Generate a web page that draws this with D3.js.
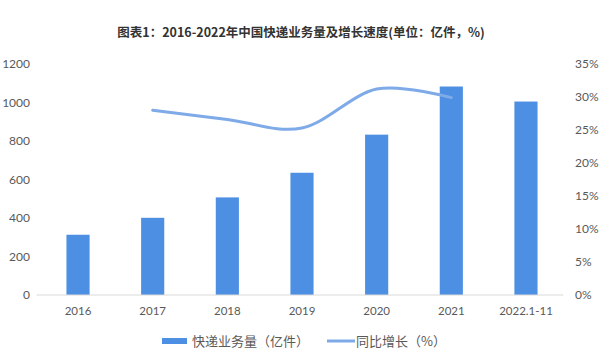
<!DOCTYPE html>
<html>
<head>
<meta charset="utf-8">
<script src="https://cdn.jsdelivr.net/npm/d3@7/dist/d3.min.js"></script>
<style>
  body { margin: 0; background: #fff; }
  text { font-family: Lato, "Noto Sans CJK SC", sans-serif; }
</style>
</head>
<body>
<div class="chart"></div>
<script>
// data
let years = ["2016", "2017", "2018", "2019", "2020", "2021", "2022.1-11"];
let volume = [313, 401, 507, 635, 833, 1083, 1005];
let growthYears = ["2017", "2018", "2019", "2020", "2021"];
let growth = [28.0, 26.6, 25.3, 31.2, 29.9];
let leftTicks = [0, 200, 400, 600, 800, 1000, 1200];
let rightTicks = [0, 5, 10, 15, 20, 25, 30, 35];

let W = 600, H = 359;
let plot = { left: 40.7, right: 563.3, top: 64, bottom: 295 };
let barColor = "#4d8fe2";
let lineColor = "#7eaae8";
let labelColor = "#595959";

let svg = d3.select(".chart")
  .append("svg")
  .attr("width", W)
  .attr("height", H);

// title
svg.append("text")
  .attr("x", 301)
  .attr("y", 37)
  .attr("text-anchor", "middle")
  .style("font-family", "'Noto Sans CJK SC', sans-serif")
  .style("font-weight", "bold")
  .style("font-size", "12.5px")
  .style("fill", "#333")
  .text("图表1：2016-2022年中国快递业务量及增长速度(单位：亿件，%)");

// scales
let xScale = d3.scaleBand()
  .domain(years)
  .range([plot.left, plot.right])
  .paddingInner(0.69)
  .paddingOuter(0.345);
let yLeft = d3.scaleLinear().domain([0, 1200]).range([plot.bottom, plot.top]);
let yRight = d3.scaleLinear().domain([0, 35]).range([plot.bottom, plot.top]);

// bars
svg.selectAll("rect.bar")
  .data(years)
  .enter()
  .append("rect")
  .attr("class", "bar")
  .attr("x", (d) => xScale(d))
  .attr("y", (d, i) => yLeft(volume[i]))
  .attr("width", xScale.bandwidth())
  .attr("height", (d, i) => plot.bottom - yLeft(volume[i]))
  .style("fill", barColor);

// x axis
let xAxis = d3.axisBottom(xScale).tickSize(0).tickPadding(12);
let gx = svg.append("g")
  .attr("transform", `translate(0, ${plot.bottom})`)
  .call(xAxis);
gx.select(".domain").attr("stroke", "#d9d9d9").attr("stroke-width", 1)
  .attr("d", `M${plot.left - 4},0H${plot.right}`);
gx.selectAll("text").style("font-size", "11.5px").style("fill", labelColor);

// left axis
let gl = svg.append("g")
  .attr("transform", "translate(30, 0)")
  .call(d3.axisLeft(yLeft).tickValues(leftTicks).tickSize(0).tickPadding(0)
    .tickFormat(d3.format("d")));
gl.select(".domain").remove();
gl.selectAll("text").style("font-size", "12px").style("fill", labelColor);

// right axis
let gr = svg.append("g")
  .attr("transform", "translate(575, 0)")
  .call(d3.axisRight(yRight).tickValues(rightTicks).tickSize(0).tickPadding(0)
    .tickFormat((d) => d + "%"));
gr.select(".domain").remove();
gr.selectAll("text").style("font-size", "12px").style("fill", labelColor);

// growth line
let line = d3.line()
  .x((d, i) => xScale(growthYears[i]) + xScale.bandwidth() / 2)
  .y((d) => yRight(d))
  .curve(d3.curveCardinal.tension(0));
svg.append("path")
  .datum(growth)
  .attr("d", line)
  .style("fill", "none")
  .style("stroke", lineColor)
  .style("stroke-width", 3)
  .style("stroke-linecap", "round");

// legend
let legend = svg.append("g").attr("transform", "translate(0, 341)");
legend.append("rect")
  .attr("x", 162).attr("y", -3).attr("width", 25).attr("height", 6)
  .style("fill", barColor);
legend.append("text")
  .attr("x", 192).attr("y", 0).attr("dy", "0.35em")
  .style("font-family", "'Noto Sans CJK SC', sans-serif")
  .style("font-size", "13px").style("fill", labelColor)
  .text("快递业务量（亿件）");
legend.append("line")
  .attr("x1", 327).attr("x2", 355).attr("y1", 0).attr("y2", 0)
  .style("stroke", lineColor).style("stroke-width", 3);
legend.append("text")
  .attr("x", 356).attr("y", 0).attr("dy", "0.35em")
  .style("font-family", "'Noto Sans CJK SC', sans-serif")
  .style("font-size", "13px").style("fill", labelColor)
  .text("同比增长（%）");
</script>
</body>
</html>
